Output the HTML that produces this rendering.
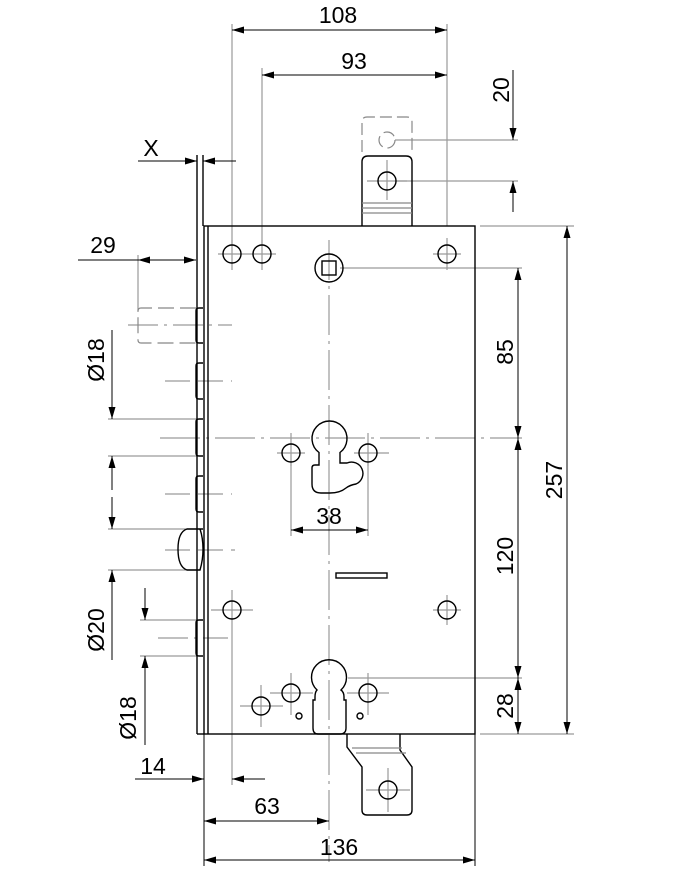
<!DOCTYPE html>
<html><head><meta charset="utf-8"><style>
html,body{margin:0;padding:0;background:#fff;}
svg{display:block;}
text{font-family:"Liberation Sans",sans-serif;font-size:23px;fill:#000;}
</style></head><body>
<svg width="678" height="874" viewBox="0 0 678 874" xmlns="http://www.w3.org/2000/svg">
<defs>
<marker id="a" markerUnits="userSpaceOnUse" markerWidth="13" markerHeight="8" refX="12" refY="4" orient="auto-start-reverse"><path d="M0,0.5 L12,4 L0,7.5 z" fill="#000"/></marker>
</defs>
<g fill="none" stroke="#9a9a9a" stroke-width="1.2">
 <line x1="232" y1="24" x2="232" y2="245"/>
 <line x1="262" y1="68" x2="262" y2="245"/>
 <line x1="447" y1="24" x2="447" y2="226"/>
 <line x1="395" y1="140" x2="518" y2="140"/>
 <line x1="395" y1="181" x2="518" y2="181"/>
 <line x1="480" y1="226" x2="574" y2="226"/>
 <line x1="480" y1="734" x2="574" y2="734"/>
 <line x1="340" y1="268" x2="522" y2="268"/>
 <line x1="348" y1="678" x2="522" y2="678"/>
 <line x1="138" y1="255" x2="138" y2="312"/>
 <line x1="108" y1="419" x2="197" y2="419"/>
 <line x1="108" y1="456" x2="197" y2="456"/>
 <line x1="108" y1="529" x2="200" y2="529"/>
 <line x1="108" y1="570" x2="200" y2="570"/>
 <line x1="140" y1="620" x2="197" y2="620"/>
 <line x1="140" y1="656" x2="197" y2="656"/>
 <line x1="291" y1="463" x2="291" y2="536"/>
 <line x1="368" y1="463" x2="368" y2="536"/>
 <line x1="329" y1="240" x2="329" y2="862" stroke-dasharray="40,6,3,6"/>
 <line x1="160" y1="438" x2="522" y2="438" stroke-dasharray="40,6,3,6"/>
 <line x1="128" y1="325" x2="232" y2="325" stroke-dasharray="30,6,3,6"/>
 <line x1="165" y1="381" x2="232" y2="381" stroke-dasharray="25,8"/>
 <line x1="165" y1="494" x2="232" y2="494" stroke-dasharray="25,8"/>
 <line x1="165" y1="550" x2="235" y2="550" stroke-dasharray="25,8"/>
 <line x1="158" y1="638" x2="228" y2="638" stroke-dasharray="30,6,3,6"/>
 <g>
  <line x1="218" y1="254" x2="276" y2="254"/><line x1="232" y1="240" x2="232" y2="270"/><line x1="262" y1="240" x2="262" y2="270"/>
  <line x1="433" y1="254" x2="461" y2="254"/><line x1="447" y1="238" x2="447" y2="270"/>
  <line x1="277" y1="453" x2="305" y2="453"/><line x1="291" y1="433" x2="291" y2="466"/>
  <line x1="354" y1="453" x2="389" y2="453"/><line x1="368" y1="433" x2="368" y2="466"/>
  <line x1="211" y1="610" x2="253" y2="610"/><line x1="232" y1="590" x2="232" y2="785"/>
  <line x1="433" y1="610" x2="461" y2="610"/><line x1="447" y1="595" x2="447" y2="625"/>
  <line x1="240" y1="706" x2="283" y2="706"/><line x1="261" y1="685" x2="261" y2="727"/>
  <line x1="270" y1="693" x2="313" y2="693"/><line x1="291" y1="673" x2="291" y2="715"/>
  <line x1="347" y1="693" x2="389" y2="693"/><line x1="368" y1="673" x2="368" y2="715"/>
  <line x1="366" y1="790" x2="410" y2="790"/><line x1="388" y1="768" x2="388" y2="812"/>
  <line x1="367" y1="181" x2="407" y2="181"/><line x1="387" y1="160" x2="387" y2="200"/>
 </g>
</g>
<g fill="none" stroke="#000" stroke-width="1.4">
 <rect x="204" y="226" width="271" height="508"/>
 <line x1="208" y1="226" x2="208" y2="734"/>
 <line x1="197" y1="155" x2="197" y2="734"/>
 <line x1="203" y1="155" x2="203" y2="226"/>
 <line x1="197" y1="734" x2="204" y2="734"/>
 <path d="M203,308 H199 Q196,308 196,311 V340 Q196,343 199,343 H203"/>
 <path d="M203,363 H199 Q196,363 196,366 V396 Q196,399 199,399 H203"/>
 <path d="M203,419 H199 Q196,419 196,422 V453 Q196,456 199,456 H203"/>
 <path d="M203,476 H199 Q196,476 196,479 V509 Q196,512 199,512 H203"/>
 <path d="M203,620 H199 Q196,620 196,623 V653 Q196,656 199,656 H203"/>
 <path d="M203,529 H187 Q178,532 178,549 Q178,567 187,570 H200 Q203,560 203,549 Q203,538 200,529"/>
 <circle cx="232" cy="254" r="9"/><circle cx="262" cy="254" r="9"/><circle cx="447" cy="254" r="9"/>
 <circle cx="329" cy="268" r="14"/><rect x="322" y="261" width="14" height="14"/>
 <circle cx="291" cy="453" r="9"/><circle cx="368" cy="453" r="9"/>
 <circle cx="232" cy="610" r="9"/><circle cx="447" cy="610" r="9"/>
 <circle cx="261" cy="706" r="9"/><circle cx="291" cy="693" r="9"/><circle cx="368" cy="693" r="9"/>
 <circle cx="299" cy="716" r="3"/><circle cx="360" cy="716" r="3"/>
 <rect x="336" y="573" width="51" height="5"/>
 <path d="M319,452.5 A17.5,17.5 0 1 1 340,452.5 V463 H347 A11,11 0 0 1 356,484 Q350,485 346,488 Q340,493 330,493 H321 Q312,493 312,484 V468 Q312,465 315,465 H319 Z"/>
 <path d="M317,690 A17.5,17.5 0 1 1 341,690 Q344,692 344,697 V700 H346 V728 Q346,734 340,734 H318 Q313,734 313,728 V700 H315 V697 Q315,692 317,690 Z"/>
 <path d="M362,226 V162 Q362,156 368,156 H406 Q412,156 412,162 V226"/>
 <circle cx="387" cy="181" r="9"/>
 <path d="M347,734 V747 L362,767 V810 Q362,815 367,815 H407 Q412,815 412,810 V767 L400,750 V734"/>
 <circle cx="388" cy="790" r="9"/>
</g>
<g stroke="#888" stroke-width="1.2" fill="none">
 <line x1="362" y1="203" x2="412" y2="203"/><line x1="362" y1="208" x2="412" y2="208"/><line x1="362" y1="213" x2="412" y2="213"/>
 <line x1="352" y1="748" x2="402" y2="748"/><line x1="356" y1="753" x2="406" y2="753"/>
 <path d="M362,152 V122 Q362,117 367,117 H407 Q412,117 412,122 V152" stroke-dasharray="12,5"/>
 <circle cx="387" cy="140" r="8" stroke-dasharray="12,5"/>
 <path d="M196,308 H141 Q138,308 138,311 V340 Q138,343 141,343 H196" stroke-dasharray="16,6"/>
</g>
<g stroke="#000" stroke-width="1" fill="none">
 <line x1="232" y1="30" x2="447" y2="30" marker-start="url(#a)" marker-end="url(#a)"/>
 <line x1="262" y1="75" x2="447" y2="75" marker-start="url(#a)" marker-end="url(#a)"/>
 <line x1="513" y1="70" x2="513" y2="140" marker-end="url(#a)"/>
 <line x1="513" y1="212" x2="513" y2="181" marker-end="url(#a)"/>
 <line x1="138" y1="161" x2="197" y2="161" marker-end="url(#a)"/>
 <line x1="236" y1="161" x2="203" y2="161" marker-end="url(#a)"/>
 <line x1="78" y1="260" x2="196" y2="260" marker-end="url(#a)"/>
 <line x1="138" y1="260" x2="150" y2="260" marker-start="url(#a)"/>
 <line x1="567" y1="226" x2="567" y2="734" marker-start="url(#a)" marker-end="url(#a)"/>
 <line x1="518" y1="268" x2="518" y2="438" marker-start="url(#a)" marker-end="url(#a)"/>
 <line x1="518" y1="438" x2="518" y2="678" marker-start="url(#a)" marker-end="url(#a)"/>
 <line x1="518" y1="678" x2="518" y2="734" marker-start="url(#a)" marker-end="url(#a)"/>
 <line x1="291" y1="530" x2="368" y2="530" marker-start="url(#a)" marker-end="url(#a)"/>
 <line x1="112" y1="330" x2="112" y2="419" marker-end="url(#a)"/>
 <line x1="112" y1="490" x2="112" y2="456" marker-end="url(#a)"/>
 <line x1="112" y1="497" x2="112" y2="529" marker-end="url(#a)"/>
 <line x1="112" y1="660" x2="112" y2="570" marker-end="url(#a)"/>
 <line x1="145" y1="588" x2="145" y2="620" marker-end="url(#a)"/>
 <line x1="145" y1="745" x2="145" y2="656" marker-end="url(#a)"/>
 <line x1="135" y1="779" x2="204" y2="779" marker-end="url(#a)"/>
 <line x1="265" y1="779" x2="232" y2="779" marker-end="url(#a)"/>
 <line x1="204" y1="734" x2="204" y2="866"/>
 <line x1="475" y1="734" x2="475" y2="866"/>
 <line x1="204" y1="821" x2="329" y2="821" marker-start="url(#a)" marker-end="url(#a)"/>
 <line x1="204" y1="860" x2="475" y2="860" marker-start="url(#a)" marker-end="url(#a)"/>
</g>
<text x="338" y="23" text-anchor="middle">108</text>
<text x="354" y="69" text-anchor="middle">93</text>
<text x="151" y="156" text-anchor="middle">X</text>
<text x="103" y="253" text-anchor="middle">29</text>
<text x="329" y="524" text-anchor="middle">38</text>
<text x="267" y="814" text-anchor="middle">63</text>
<text x="153" y="774" text-anchor="middle">14</text>
<text x="339" y="855" text-anchor="middle">136</text>
<text transform="translate(509,90) rotate(-90)" text-anchor="middle">20</text>
<text transform="translate(513,352) rotate(-90)" text-anchor="middle">85</text>
<text transform="translate(513,556) rotate(-90)" text-anchor="middle">120</text>
<text transform="translate(513,706) rotate(-90)" text-anchor="middle">28</text>
<text transform="translate(562,480) rotate(-90)" text-anchor="middle">257</text>
<text transform="translate(104,360) rotate(-90)" text-anchor="middle">Ø18</text>
<text transform="translate(104,630) rotate(-90)" text-anchor="middle">Ø20</text>
<text transform="translate(136,718) rotate(-90)" text-anchor="middle">Ø18</text>
</svg>
</body></html>
